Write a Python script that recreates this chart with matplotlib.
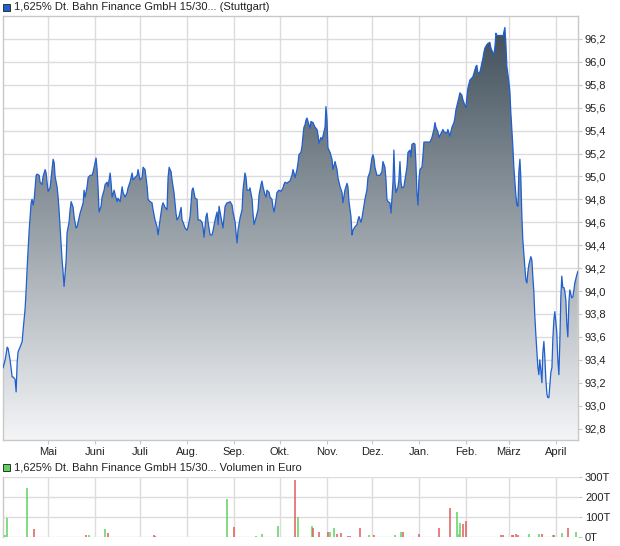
import numpy as np
import pandas as pd
import matplotlib
matplotlib.use("Agg")
import matplotlib.pyplot as plt
from matplotlib.colors import LinearSegmentedColormap
from matplotlib.patches import Rectangle
import matplotlib.dates as mdates

plt.rcParams['font.family'] = ['Liberation Sans', 'DejaVu Sans']

# Tage seit Startdatum und Kurse (in %)
start = pd.Timestamp('2024-04-01')
tage = [0.5, 1.9, 3.2, 3.8, 5.1, 6.5, 7.1, 8.4, 9.1, 9.8, 10.4, 11.7, 13.1, 13.7, 15.0, 15.7, 16.4, 17.7, 19.0, 19.6,
        20.3, 21.0, 22.3, 22.9, 24.3, 24.9, 26.2, 26.9, 28.2, 28.9, 29.5, 30.2, 31.5, 32.8, 33.5, 34.2, 34.8, 36.1, 36.8, 37.4,
        38.8, 39.4, 40.1, 40.7, 42.1, 42.7, 44.0, 44.7, 45.4, 46.7, 47.3, 48.6, 49.3, 50.6, 51.3, 52.0, 53.3, 53.9, 54.6, 55.9,
        56.6, 57.9, 59.2, 59.9, 61.2, 61.8, 62.5, 63.1, 63.8, 65.1, 65.8, 67.1, 67.8, 69.1, 69.7, 71.1, 71.7, 72.4, 73.7, 74.4,
        75.7, 76.3, 77.7, 79.0, 79.6, 81.0, 82.3, 82.9, 84.2, 85.6, 86.2, 87.5, 88.9, 89.5, 90.8, 92.2, 92.8, 94.1, 95.5, 96.1,
        97.4, 98.7, 99.4, 100.7, 102.0, 102.7, 104.0, 105.3, 106.0, 107.3, 108.6, 109.3, 110.0, 111.3, 111.9, 113.2, 114.6, 115.2, 116.5, 117.9,
        118.5, 119.2, 120.5, 121.8, 122.5, 123.8, 125.1, 125.8, 127.1, 128.4, 129.1, 130.4, 131.7, 132.4, 133.0, 134.3, 135.0, 135.7, 137.0, 138.3,
        139.0, 140.3, 141.6, 142.3, 142.9, 143.6, 144.9, 145.5, 146.9, 148.2, 148.8, 150.2, 151.5, 152.1, 153.5, 154.1, 154.8, 155.4, 156.8, 158.1,
        158.7, 160.0, 160.7, 161.4, 162.7, 163.3, 164.7, 165.3, 166.0, 167.3, 168.6, 169.3, 170.6, 171.2, 171.9, 173.2, 173.9, 174.5, 175.9, 176.5,
        177.8, 178.5, 179.2, 180.5, 181.1, 182.4, 183.8, 185.1, 185.7, 186.4, 187.7, 188.4, 189.7, 191.0, 191.7, 192.3, 193.0, 194.3, 195.0, 195.6,
        196.9, 197.6, 198.3, 198.9, 199.6, 200.2, 200.9, 202.2, 202.9, 203.5, 204.9, 205.5, 206.2, 207.5, 208.2, 208.8, 210.1, 210.8, 211.4, 212.8,
        213.4, 214.1, 214.7, 216.1, 217.4, 218.0, 219.4, 220.7, 221.3, 222.7, 224.0, 224.6, 225.9, 227.3, 227.9, 228.6, 229.9, 230.6, 231.2, 232.5,
        233.9, 234.5, 235.2, 236.5, 237.2, 237.8, 239.1, 240.4, 241.1, 242.4, 243.7, 244.4, 245.1, 245.7, 247.0, 247.7, 249.0, 250.3, 251.0, 252.3,
        253.0, 253.6, 254.3, 255.6, 256.3, 256.9, 257.6, 258.2, 258.9, 259.6, 260.9, 261.5, 262.2, 262.9, 263.5, 264.8, 265.5, 266.8, 267.5, 268.8,
        269.4, 270.1, 271.4, 272.1, 272.7, 273.4, 274.1, 274.7, 275.4, 276.7, 277.3, 278.0, 280.0, 282.0, 283.3, 284.6, 285.3, 285.9, 287.2, 287.9,
        288.6, 289.9, 290.5, 291.2, 292.5, 293.2, 293.8, 295.1, 295.8, 296.5, 297.8, 298.4, 299.1, 300.4, 301.1, 301.7, 303.0, 303.7, 305.0, 305.7,
        306.3, 307.0, 308.3, 309.6, 310.3, 311.6, 312.3, 312.9, 313.6, 314.9, 315.6, 316.2, 316.9, 317.5, 318.2, 319.5, 320.2, 321.5, 322.2, 323.5,
        324.1, 324.8, 325.5, 326.1, 327.4, 328.1, 329.4, 330.1, 330.7, 331.4, 332.0, 332.7, 334.0, 334.7, 335.3, 336.0, 336.7, 337.3, 338.0, 338.6,
        339.3, 340.0, 340.6, 341.3, 341.9, 342.6, 343.2, 343.9, 344.6, 345.2, 345.9, 346.5, 347.2, 348.5, 349.2, 349.8, 350.5, 351.1, 351.8, 352.5,
        353.1, 353.8, 354.4, 355.1, 355.8, 356.4, 357.1, 357.7, 358.4, 359.1, 359.7, 360.4, 361.0, 361.7, 362.4, 363.0, 363.7, 364.3, 365.0, 365.6,
        366.3, 367.0, 367.6, 368.3, 368.9, 369.6, 370.3, 370.9, 371.6, 372.2, 372.9, 373.6, 374.2, 374.9, 375.5, 376.2, 376.8, 377.5, 378.8, 379.5]
kurs = [93.33, 93.40, 93.51, 93.50, 93.40, 93.25, 93.25, 93.23, 93.12, 93.38, 93.47, 93.51, 93.56, 93.66, 93.84, 94.01, 94.21, 94.53, 94.77, 94.80,
        94.75, 94.80, 95.01, 95.02, 95.01, 94.95, 94.93, 95.00, 95.06, 95.03, 94.95, 94.87, 94.90, 95.06, 95.15, 95.12, 95.00, 94.91, 94.82, 94.71,
        94.40, 94.27, 94.16, 94.04, 94.27, 94.51, 94.60, 94.71, 94.78, 94.73, 94.65, 94.55, 94.56, 94.64, 94.68, 94.71, 94.77, 94.88, 94.82, 94.91,
        94.99, 95.01, 95.01, 95.04, 95.12, 95.16, 95.06, 94.91, 94.69, 94.74, 94.82, 94.88, 94.93, 94.95, 94.91, 95.03, 94.95, 94.82, 94.88, 94.84,
        94.78, 94.81, 94.78, 94.91, 94.86, 94.82, 94.86, 94.90, 94.95, 95.03, 94.97, 94.99, 95.01, 95.06, 94.97, 94.99, 95.08, 95.06, 94.91, 94.80,
        94.78, 94.77, 94.71, 94.62, 94.56, 94.49, 94.62, 94.74, 94.77, 94.73, 94.71, 94.99, 95.08, 95.04, 94.97, 94.86, 94.67, 94.62, 94.65, 94.73,
        94.62, 94.60, 94.55, 94.53, 94.56, 94.65, 94.88, 94.90, 94.81, 94.80, 94.62, 94.62, 94.60, 94.55, 94.47, 94.65, 94.68, 94.60, 94.49, 94.49,
        94.53, 94.62, 94.69, 94.58, 94.74, 94.69, 94.60, 94.55, 94.74, 94.77, 94.77, 94.78, 94.75, 94.69, 94.60, 94.51, 94.42, 94.53, 94.64, 94.71,
        94.88, 95.03, 94.99, 94.88, 94.88, 94.90, 94.80, 94.68, 94.58, 94.64, 94.71, 94.84, 94.93, 94.96, 94.91, 94.84, 94.82, 94.88, 94.86, 94.82,
        94.80, 94.73, 94.69, 94.80, 94.86, 94.88, 94.87, 94.90, 94.93, 94.95, 94.94, 94.95, 94.96, 95.01, 95.06, 95.03, 94.99, 95.06, 95.12, 95.19,
        95.21, 95.26, 95.36, 95.43, 95.45, 95.49, 95.51, 95.45, 95.42, 95.48, 95.47, 95.45, 95.43, 95.41, 95.36, 95.29, 95.34, 95.32, 95.35, 95.43,
        95.61, 95.49, 95.25, 95.21, 95.15, 95.06, 95.13, 95.06, 94.99, 94.91, 94.86, 94.77, 94.88, 94.94, 94.91, 94.78, 94.65, 94.49, 94.53, 94.56,
        94.58, 94.62, 94.65, 94.60, 94.64, 94.69, 94.80, 94.88, 94.99, 95.04, 95.16, 95.19, 95.15, 95.08, 95.01, 95.01, 95.01, 95.04, 95.13, 95.08,
        94.97, 94.80, 94.78, 94.77, 94.68, 94.80, 94.95, 95.23, 94.95, 94.86, 94.91, 94.97, 95.13, 94.95, 94.90, 94.91, 94.97, 95.08, 95.21, 95.23,
        95.17, 95.28, 95.29, 95.28, 95.12, 94.86, 94.75, 94.97, 95.06, 95.08, 95.17, 95.30, 95.30, 95.30, 95.34, 95.41, 95.47, 95.43, 95.39, 95.34,
        95.36, 95.39, 95.41, 95.39, 95.38, 95.38, 95.41, 95.35, 95.39, 95.43, 95.47, 95.51, 95.58, 95.65, 95.69, 95.73, 95.71, 95.67, 95.62, 95.60,
        95.69, 95.77, 95.84, 95.86, 95.87, 95.93, 95.96, 95.97, 95.90, 95.91, 95.95, 95.99, 96.03, 96.08, 96.12, 96.15, 96.16, 96.17, 96.12, 96.08,
        96.06, 96.13, 96.25, 96.23, 96.23, 96.23, 96.23, 96.22, 96.26, 96.30, 96.17, 95.96, 95.83, 95.74, 95.56, 95.41, 95.25, 95.08, 94.95, 94.84,
        94.75, 94.74, 95.04, 95.15, 94.99, 94.65, 94.45, 94.32, 94.20, 94.10, 94.07, 94.16, 94.23, 94.30, 94.27, 94.13, 93.99, 93.79, 93.62, 93.47,
        93.34, 93.27, 93.40, 93.31, 93.20, 93.46, 93.56, 93.43, 93.23, 93.10, 93.07, 93.07, 93.17, 93.29, 93.33, 93.58, 93.75, 93.82, 93.73, 93.64,
        93.40, 93.27, 93.55, 93.95, 94.13, 94.03, 94.03, 94.00, 93.92, 93.72, 93.60, 93.90, 94.01, 93.97, 93.94, 93.95, 94.00, 94.07, 94.14, 94.17]

# Volumen in Euro
vol_tage = [2, 3, 16, 21, 55, 57, 68, 70, 100, 101, 148, 153, 167, 171, 182, 193, 195, 204, 205, 209,
            215, 216, 219, 221, 223, 228, 229, 236, 242, 245, 259, 263, 264, 275, 288, 295, 300, 301, 302, 304,
            306, 329, 330, 336, 337, 339, 340, 347, 354, 356, 363, 364, 369, 373, 378]
volumen = [10, 97, 245, 40, 8, 8, 40, 18, 8, 6, 188, 50, 6, 13, 55, 285, 100, 57, 45, 23,
           23, 23, 47, 15, 18, 3, 3, 47, 8, 8, 8, 23, 23, 13, 45, 145, 125, 13, 68, 63,
           78, 8, 8, 8, 12, 13, 8, 13, 13, 13, 8, 8, 18, 47, 23]
vol_farbe = ['g', 'g', 'g', 'r', 'r', 'g', 'g', 'r', 'r', 'r', 'g', 'r', 'g', 'g', 'g', 'r', 'g', 'g', 'r', 'r',
             'r', 'g', 'g', 'r', 'r', 'r', 'r', 'r', 'g', 'r', 'g', 'g', 'r', 'r', 'r', 'r', 'g', 'g', 'g', 'r',
             'r', 'r', 'r', 'r', 'r', 'r', 'r', 'g', 'g', 'r', 'g', 'r', 'g', 'r', 'g']

monate = ['Mai', 'Juni', 'Juli', 'Aug.', 'Sep.', 'Okt.', 'Nov.', 'Dez.', 'Jan.', 'Feb.', 'März', 'April']
monat_start = pd.date_range('2024-05-01', periods=12, freq='MS')

datum = start + pd.to_timedelta(tage, unit='D')
vol_datum = start + pd.to_timedelta(vol_tage, unit='D')
volumen = np.array(volumen) * 1000

gitter = '#dcdcdc'
rahmen = '#c8c8c8'
ymin, ymax = 92.7, 96.4
xlim = (start + pd.Timedelta(days=0.45), start + pd.Timedelta(days=379.6))

fig = plt.figure(figsize=(6.2, 5.46), dpi=100)
ax = fig.add_axes([3 / 620, 1 - 440 / 546, 575 / 620, 424 / 546])
axv = fig.add_axes([3 / 620, 1 - 537 / 546, 575 / 620, 60 / 546])

# Kurs mit Verlauf
ax.set_xlim(xlim)
ax.set_ylim(ymin, ymax)
x0, x1 = mdates.date2num(xlim[0]), mdates.date2num(xlim[1])
cmap = LinearSegmentedColormap.from_list('verlauf', ['#f4f5f7', '#3b4b57'])
verlauf = np.linspace(0, 1, 256).reshape(-1, 1)
im = ax.imshow(verlauf, extent=[x0, x1, ymin, ymax], origin='lower', aspect='auto',
               cmap=cmap, zorder=1, interpolation='bilinear')
flaeche = ax.fill_between(datum, kurs, ymin, facecolor='none', edgecolor='none')
im.set_clip_path(flaeche.get_paths()[0], transform=ax.transData)
ax.plot(datum, kurs, color='#1f5fd0', lw=0.9, zorder=3)

ax.set_yticks(np.arange(92.8, 96.3, 0.2))
ax.set_yticklabels([f'{v:.1f}'.replace('.', ',') for v in np.arange(92.8, 96.3, 0.2)])
ax.set_xticks(monat_start)
ax.set_xticklabels(monate)

# Volumen
axv.set_xlim(xlim)
axv.set_ylim(0, 300000)
farben = ['#5fd35f' if f == 'g' else '#e05c5c' for f in vol_farbe]
axv.vlines(vol_datum, 0, volumen, colors=farben, lw=1.1, zorder=3)
axv.set_yticks([0, 100000, 200000, 300000])
axv.set_yticklabels(['0T', '100T', '200T', '300T'])
axv.set_xticks(monat_start)
axv.set_xticklabels([])

for a in (ax, axv):
    a.grid(True, color=gitter, lw=1.0, zorder=0)
    a.set_axisbelow(True)
    a.yaxis.tick_right()
    a.tick_params(axis='y', length=3, pad=2, color=rahmen, labelsize=8, labelcolor='#222222')
    a.tick_params(axis='x', length=3, pad=2, color=rahmen, labelsize=8, labelcolor='#222222')
    for s in a.spines.values():
        s.set_color(rahmen)
        s.set_linewidth(1.0)
axv.tick_params(axis='x', length=0)
axv.spines['top'].set_visible(False)
axv.spines['right'].set_visible(False)
axv.spines['bottom'].set_visible(False)

# Kopfzeilen
fig.patches.append(Rectangle((3 / 620, 1 - 11 / 546), 7 / 620, 7 / 546, transform=fig.transFigure,
                             facecolor='#1f5fd0', edgecolor='#333333', lw=0.7))
fig.text(14 / 620, 1 - 7.5 / 546, '1,625% Dt. Bahn Finance GmbH 15/30... (Stuttgart)',
         fontsize=8, va='center', ha='left', color='#222222')
fig.patches.append(Rectangle((3 / 620, 1 - 471 / 546), 7 / 620, 7 / 546, transform=fig.transFigure,
                             facecolor='#5fd35f', edgecolor='#333333', lw=0.7))
fig.text(14 / 620, 1 - 467.5 / 546, '1,625% Dt. Bahn Finance GmbH 15/30... Volumen in Euro',
         fontsize=8, va='center', ha='left', color='#222222')

fig.savefig('out.png', dpi=100)
